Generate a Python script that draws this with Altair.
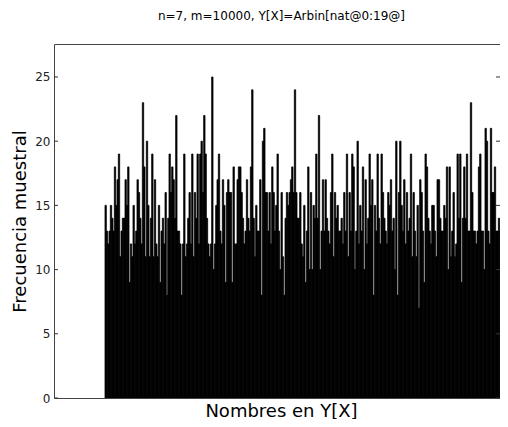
import altair as alt
import pandas as pd

title_text = "n=7, m=10000, Y[X]=Arbin[nat@0:19@]"
y_title = "Frecuencia muestral"
x_title = "Nombres en Y[X]"
y_ticks = [0, 5, 10, 15, 20, 25]

seg1 = [15, 13, 12, 13, 15, 14, 13, 18, 15, 17, 19, 11, 13, 14, 14, 17, 15, 18, 9, 12,
        11, 15, 12, 13, 17, 16, 14, 12, 23, 18, 11, 20, 15, 11, 14, 19, 11, 17, 12, 11,
        15, 9, 13, 14, 12, 16, 8, 14, 19, 16, 18, 17, 14, 22, 13, 13, 12, 8, 12, 19,
        11, 12, 14, 16, 12, 19, 11, 16, 14, 19, 12, 19, 20, 16, 22, 19, 14, 12, 11, 12,
        25, 10, 12, 15, 17, 19, 13, 12, 17, 15, 9, 16, 17, 16, 16, 9, 18, 12, 12, 17, 18]
seg2 = [18, 16, 14, 12, 13, 17, 14, 13, 18, 24, 14, 11, 15, 13, 13, 17, 8, 20, 21, 16,
        16, 13, 16, 12, 18, 16, 13, 15, 19, 13, 10, 16, 11, 8, 14, 16, 15, 16, 17, 18,
        16, 24, 16, 14, 14, 16, 12, 11, 15, 9, 13, 18, 10, 16, 10, 15, 14, 19, 14, 22,
        10, 13, 17, 13, 17, 14, 13, 12, 16, 19, 11, 16, 14, 15, 13, 13, 14, 12, 16, 13,
        19, 11, 16, 13, 19, 18, 10, 13, 20, 12, 15, 13, 18, 10, 17, 12, 14, 19]
seg3 = [15, 17, 8, 15, 13, 19, 14, 12, 19, 16, 14, 13, 12, 16, 15, 17, 13, 14, 10, 20,
        8, 16, 20, 15, 13, 17, 12, 16, 13, 14, 19, 11, 16, 13, 11, 15, 7, 17, 16, 13,
        9, 19, 18, 14, 13, 12, 15, 15, 13, 11, 17, 17, 14, 13, 13, 15, 14, 18, 10, 18,
        11, 13, 16, 11, 12, 19, 14, 19, 9, 14, 18, 14, 19, 13, 13, 23, 16, 13, 13, 12,
        13, 18, 19, 13, 13, 10, 21, 20, 13, 12, 21, 16, 16, 18, 13, 13, 14, 13, 13, 15,
        17, 17, 10, 17]

freqs = seg1 + seg2 + seg3
df = pd.DataFrame({"i": list(range(len(freqs))), "f": freqs})
df["i2"] = df["i"] + 1
ticks_df = pd.DataFrame({"t": y_ticks})

W, H = 455, 354
VISIBLE = 446  # plot width visible inside the page
xs = alt.Scale(domain=[-38.25, 303.0], nice=False, zero=False)
ys = alt.Scale(domain=[0, 27.57], nice=False)

bars = alt.Chart(df).mark_rect(color="black", stroke="black", strokeWidth=0.8, clip=True).encode(
    x=alt.X("i:Q", scale=xs, axis=alt.Axis(title=x_title, labels=False, ticks=False,
                                           domain=False, grid=False, titleFontSize=18,
                                           titleFont="DejaVu Sans", titleFontWeight="normal",
                                           titleColor="#000", titlePadding=4, titleX=227)),
    x2="i2:Q",
    y=alt.Y("f:Q", scale=ys, axis=alt.Axis(title=y_title, values=y_ticks, ticks=False,
                                           domain=False, grid=False, labelFontSize=12,
                                           labelFont="DejaVu Sans", labelColor="#222",
                                           labelPadding=4, titleFontSize=18,
                                           titleFont="DejaVu Sans", titleFontWeight="normal",
                                           titleColor="#000", titlePadding=5)),
    y2=alt.datum(0),
)

left_ticks = alt.Chart(ticks_df).mark_rule(color="#333", strokeWidth=1).encode(
    y=alt.Y("t:Q", scale=ys), x=alt.value(0), x2=alt.value(4))
right_ticks = alt.Chart(ticks_df).mark_rule(color="#333", strokeWidth=1).encode(
    y=alt.Y("t:Q", scale=ys), x=alt.value(VISIBLE - 4), x2=alt.value(VISIBLE))

chart = alt.layer(bars, left_ticks, right_ticks).properties(
    width=W, height=H,
    title=alt.TitleParams(title_text, fontSize=12, font="DejaVu Sans", fontWeight="normal",
                          color="#000", anchor="middle", offset=21),
    autosize=alt.AutoSizeParams(type="none"),
    padding={"left": 46, "top": 36, "right": 46 + VISIBLE - 46 - W, "bottom": 21},
).configure_view(stroke="#444", strokeWidth=1)

chart.save("out.html", embed_options={"renderer": "svg", "actions": False})
